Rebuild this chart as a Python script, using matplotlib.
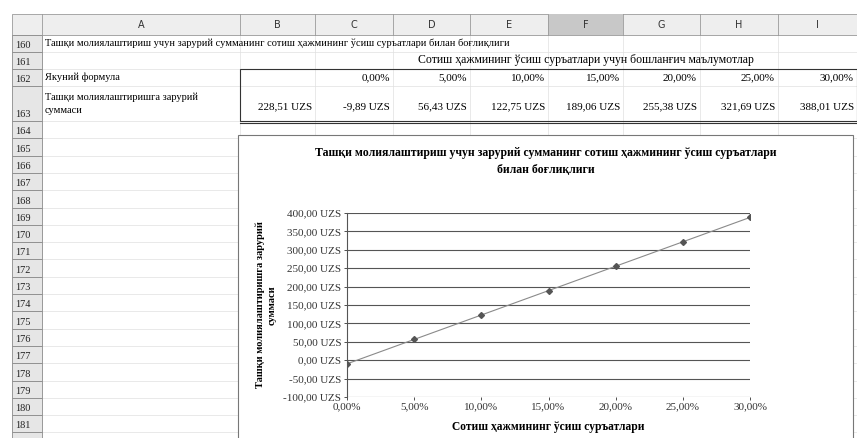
"""Spreadsheet view: external financing needed vs. sales growth rate."""

import matplotlib
matplotlib.use("Agg")
import matplotlib.pyplot as plt
from matplotlib.patches import Rectangle
from matplotlib.ticker import FuncFormatter, MultipleLocator

plt.rcParams["font.family"] = ["Liberation Serif", "DejaVu Serif"]

# --- data -------------------------------------------------------------
col_letters = ["A", "B", "C", "D", "E", "F", "G", "H", "I"]
row_numbers = list(range(160, 182))
growth = [0, 5, 10, 15, 20, 25, 30]                    # %
efn = [-9.89, 56.43, 122.75, 189.06, 255.38, 321.69, 388.01]
base_value = 228.51

row160_text = ("Ташқи молиялаштириш учун зарурий сумманинг сотиш ҳажмининг "
               "ўсиш суръатлари билан боғлиқлиги")
row161_text = "Сотиш ҳажмининг ўсиш суръатлари учун бошланғич маълумотлар"
row162_text = "Якуний формула"
row163_text = "Ташқи молиялаштиришга зарурий\nсуммаси"
chart_title = ("Ташқи молиялаштириш учун зарурий сумманинг сотиш ҳажмининг ўсиш суръатлари\n"
               "билан боғлиқлиги")
y_label = "Ташқи молиялаштиришга зарурий\nсуммаси"
x_label = "Сотиш ҳажмининг ўсиш суръатлари"

W, H = 857, 438
COL_X = [12, 42, 240, 315, 393, 470, 548, 623, 700, 778, 857]
HDR = (14, 35)
ROW_Y = [35, 52, 69, 86, 121]      # rows 160..163 edges
STEP = 17.3


def fmt_uzs(v, pos=None):
    return f"{v:.2f}".replace(".", ",") + " UZS"


def fmt_pct(v, pos=None):
    return f"{v:.2f}".replace(".", ",") + "%"


fig = plt.figure(figsize=(W / 100, H / 100), dpi=100)
bg = fig.add_axes([0, 0, 1, 1])
bg.set_xlim(0, W)
bg.set_ylim(H, 0)
bg.axis("off")

# row edges for the whole sheet
edges = list(ROW_Y)
while edges[-1] < H:
    edges.append(edges[-1] + STEP)

# faint cell grid
for y in edges:
    bg.plot([COL_X[1], W], [y, y], color="#e0e0e0", lw=0.5, zorder=1)
for x in COL_X[2:]:
    bg.plot([x, x], [HDR[1], H], color="#e0e0e0", lw=0.5, zorder=1)

# column header strip
bg.add_patch(Rectangle((COL_X[0], HDR[0]), W - COL_X[0], HDR[1] - HDR[0],
                       facecolor="#eeeeee", edgecolor="#9a9a9a", lw=0.6))
for i, letter in enumerate(col_letters):
    x0, x1 = COL_X[i + 1], COL_X[i + 2]
    if letter == "F":
        bg.add_patch(Rectangle((x0, HDR[0]), x1 - x0, HDR[1] - HDR[0],
                               facecolor="#c8c8c8", edgecolor="none"))
    bg.plot([x0, x0], [HDR[0], HDR[1]], color="#9a9a9a", lw=0.6)
    bg.text((x0 + x1) / 2, (HDR[0] + HDR[1]) / 2, letter, ha="center", va="center",
            fontsize=7, family=["DejaVu Sans"], color="#333333")

# row numbers (last partial row has its box only)
for k, (y0, y1) in enumerate(zip(edges[:-1], edges[1:])):
    bg.add_patch(Rectangle((COL_X[0], y0), COL_X[1] - COL_X[0], y1 - y0,
                           facecolor="#e6e6e6", edgecolor="#8a8a8a", lw=0.6))
    if k < len(row_numbers):
        bg.text(COL_X[0] + 3, y1 - 2, str(row_numbers[k]), ha="left", va="bottom",
                fontsize=7.5, color="#222222")

# table cells
tx = COL_X[1] + 3
bg.text(tx, (ROW_Y[0] + ROW_Y[1]) / 2, row160_text, ha="left", va="center", fontsize=7.5)
bg.text((COL_X[3] + W) / 2, (ROW_Y[1] + ROW_Y[2]) / 2, row161_text, ha="center",
        va="center", fontsize=8.5)
bg.text(tx, (ROW_Y[2] + ROW_Y[3]) / 2, row162_text, ha="left", va="center", fontsize=7.5)
bg.text(tx, (ROW_Y[3] + ROW_Y[4]) / 2, row163_text, ha="left", va="center", fontsize=7.5,
        linespacing=1.6)
bg.text(COL_X[3] - 3, (ROW_Y[3] + ROW_Y[4]) / 2 + 3, fmt_uzs(base_value), ha="right",
        va="center", fontsize=8)
for i, (g, v) in enumerate(zip(growth, efn)):
    xr = COL_X[i + 4] - 3
    bg.text(xr, (ROW_Y[2] + ROW_Y[3]) / 2, fmt_pct(g), ha="right", va="center", fontsize=8)
    bg.text(xr, (ROW_Y[3] + ROW_Y[4]) / 2 + 3, fmt_uzs(v), ha="right", va="center",
            fontsize=8)
# table border
bg.add_patch(Rectangle((COL_X[2], ROW_Y[2]), W - COL_X[2], ROW_Y[4] - ROW_Y[2],
                       facecolor="none", edgecolor="#333333", lw=0.8, zorder=2))
bg.plot([COL_X[2], W], [ROW_Y[4] + 1.5, ROW_Y[4] + 1.5], color="#333333", lw=0.8)

# chart box (covers the sheet grid)
CX0, CX1, CY0 = 238, 853, 135
bg.add_patch(Rectangle((CX0, CY0), CX1 - CX0, H + 5 - CY0, facecolor="white",
                       edgecolor="#777777", lw=0.8, zorder=3))
bg.text((CX0 + CX1) / 2, 147, chart_title, ha="center", va="top", fontsize=8.5,
        fontweight="bold", linespacing=1.6, zorder=4)

# --- chart --------------------------------------------------------------
PX0, PX1, PY_TOP, PY_BOT = 347, 750, 213, 397
ax = fig.add_axes([PX0 / W, 1 - PY_BOT / H, (PX1 - PX0) / W, (PY_BOT - PY_TOP) / H])
ax.patch.set_alpha(0)
ax.plot(growth, efn, color="#8a8a8a", lw=0.8, marker="D", markersize=3,
        markerfacecolor="#555555", markeredgecolor="#555555", zorder=3)
ax.set_xlim(0, 30)
ax.set_ylim(-100, 400)
ax.yaxis.set_major_locator(MultipleLocator(50))
ax.xaxis.set_major_locator(MultipleLocator(5))
ax.yaxis.set_major_formatter(FuncFormatter(fmt_uzs))
ax.xaxis.set_major_formatter(FuncFormatter(fmt_pct))
ax.grid(axis="y", color="#555555", lw=0.8)
ax.tick_params(labelsize=8, length=2, width=0.6, colors="#333333", pad=2)
for side in ["top", "right", "bottom"]:
    ax.spines[side].set_visible(False)
ax.spines["left"].set_color("#555555")
ax.set_xlabel(x_label, fontsize=8.3, fontweight="bold", labelpad=7)
ax.set_ylabel(y_label, fontsize=7.5, fontweight="bold", labelpad=5, linespacing=1.3)

fig.savefig("out.png", dpi=100)
